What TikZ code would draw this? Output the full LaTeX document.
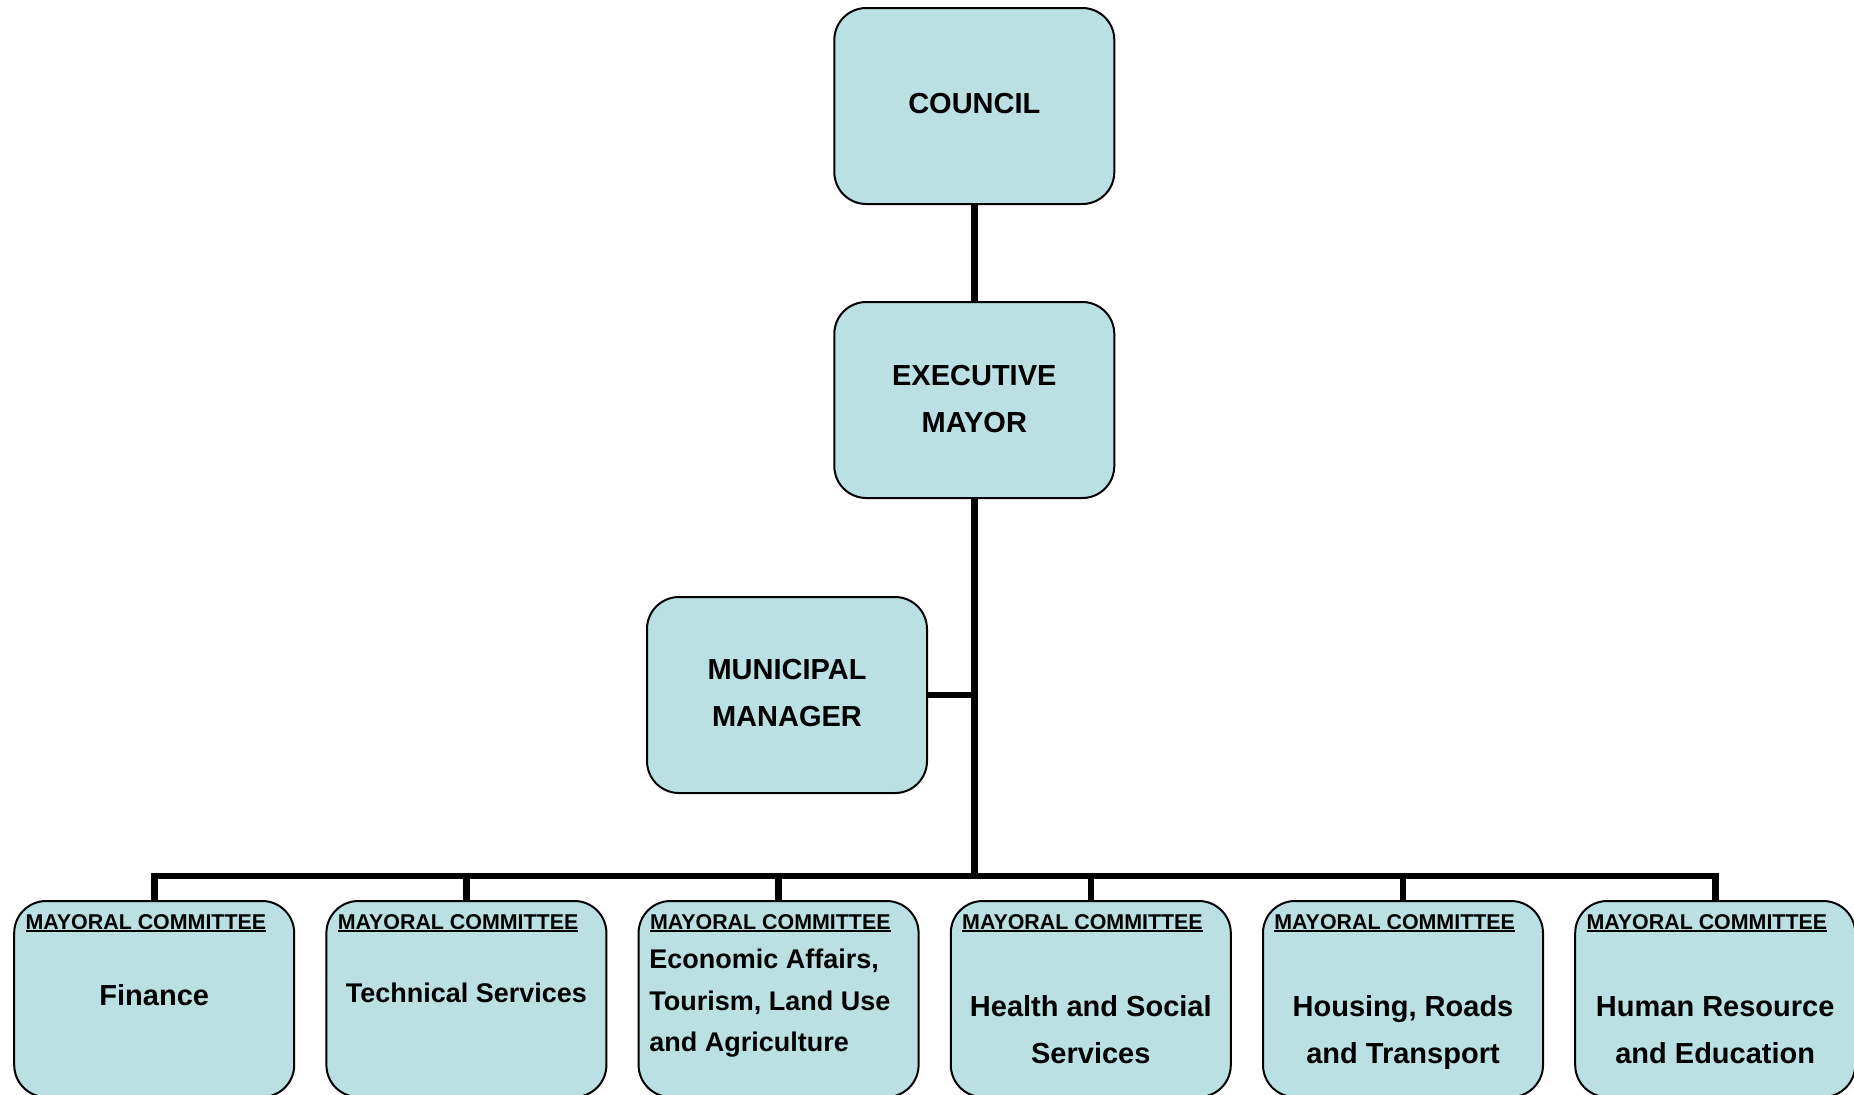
\documentclass[tikz,border=0pt]{standalone}
\usepackage{fontspec}
\setmainfont{Liberation Sans}
\usetikzlibrary{calc}
\definecolor{boxfill}{HTML}{BBE0E3}
\newcommand\mcul[1]{\setbox0\hbox{#1}\rlap{\rule[-1.6pt]{\wd0}{1pt}}\box0}
\begin{document}
\begin{tikzpicture}[x=0.5pt,y=-0.5pt,
  orgbox/.style={draw=black, line width=1pt, fill=boxfill, rounded corners=16pt,
    minimum width=140pt, minimum height=98pt, inner sep=0pt},
  conn/.style={draw=black, line width=3.3pt},
  bigtxt/.style={font=\fontsize{14.5}{23.5}\selectfont\bfseries, align=center, inner sep=0pt},
  midtxt/.style={font=\fontsize{13.5}{20.7}\selectfont\bfseries, inner sep=0pt},
  mctxt/.style={font=\fontsize{10.7}{12}\selectfont\bfseries, inner sep=0pt, anchor=base west}
]
\useasboundingbox (0,0) rectangle (1854,1094);
% top boxes
\node[orgbox] (council) at (974.3,106) {};
\node[bigtxt] (councilt) at (974.3,104) {COUNCIL};
\node[orgbox] (mayor) at (974.3,400) {};
\node[bigtxt] (mayort) at (974.3,399) {EXECUTIVE\\MAYOR};
\node[orgbox] (mm) at (787,695) {};
\node[bigtxt] (mmt) at (787,693.5) {MUNICIPAL\\MANAGER};
% bottom boxes
\foreach \i/\x in {1/154.2,2/466.4,3/778.6,4/1090.8,5/1403,6/1715.2}{
  \node[orgbox, anchor=north] (c\i) at (\x,900) {};
  \node[mctxt] (c\i h) at ($(c\i.north west)+(12,29)$) {\mcul{MAYORAL COMMITTEE}};
}
\node[bigtxt] (c1t) at (154.2,995.6) {Finance};
\node[midtxt] (c2t) at (466.4,993.3) {Technical Services};
\node[midtxt, align=left, anchor=west] (c3t) at (649,1003.2) {Economic Affairs,\\Tourism, Land Use\\and Agriculture};
\node[bigtxt] (c4t) at (1090.8,1029.8) {Health and Social\\Services};
\node[bigtxt] (c5t) at (1403,1032.8) {Housing, Roads\\and Transport};
\node[bigtxt] (c6t) at (1715.2,1029.8) {Human Resource\\and Education};
% connectors
\coordinate (bus) at (974.3,876);
\draw[conn] (council.south) -- (mayor.north);
\draw[conn] (mayor.south) -- (bus);
\draw[conn] (mm.east) -- (mm.east -| bus);
\draw[conn] (c1.north) -- (c1.north |- bus) -- (c6.north |- bus) -- (c6.north);
\foreach \i in {2,3,4,5}{
  \draw[conn] (c\i.north) -- (c\i.north |- bus);
}
\end{tikzpicture}
\end{document}
